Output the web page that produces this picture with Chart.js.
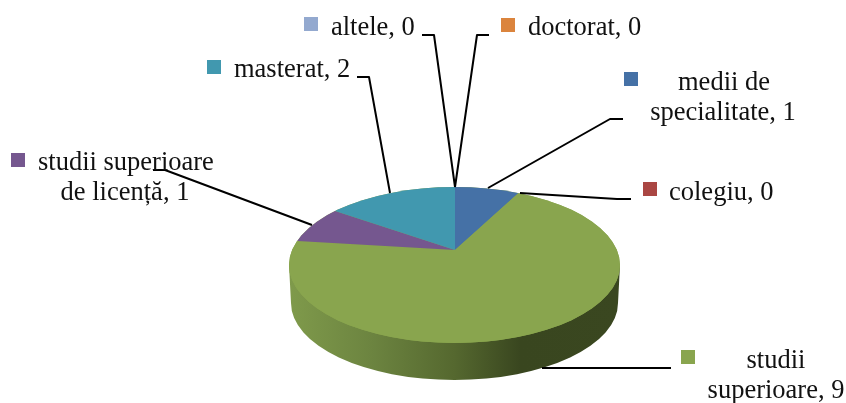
<!DOCTYPE html>
<html>
<head>
<meta charset="utf-8">
<style>html,body{margin:0;padding:0;background:#fff}canvas{display:block}</style>
<script src="https://cdn.jsdelivr.net/npm/chart.js@4"></script>
</head>
<body>
<canvas id="c" width="846" height="403"></canvas>
<script>
const categories = ["medii de specialitate","colegiu","studii superioare","studii superioare de licență","masterat","doctorat","altele"];
const values = [1,0,9,1,2,0,0];
const colors = ["#4571A6","#AA4643","#89A54E","#75578F","#4198AF","#DB843D","#93A9CF"];

// Annotation layout: square, text lines (x, baseline, align), leader polyline
const annotations = [
  {i:0,sq:[624,72],lines:[["medii de",724,90,"center"],["specialitate, 1",723,120,"center"]],lead:[[623,119],[610,119],[488,188]]},
  {i:1,sq:[643,182],lines:[["colegiu, 0",669,200,"left"]],lead:[[631,199],[617,199],[520,193]]},
  {i:2,sq:[681,350],lines:[["studii",776,368,"center"],["superioare, 9",776,398,"center"]],lead:[[671,368],[542,368]]},
  {i:3,sq:[11,153],lines:[["studii superioare",38,170,"left"],["de licență, 1",125,200,"center"]],lead:[[153,170],[165,170],[312,225]]},
  {i:4,sq:[207,60],lines:[["masterat, 2",234,77,"left"]],lead:[[357,77],[369,77],[390,193]]},
  {i:5,sq:[501,18],lines:[["doctorat, 0",528,35,"left"]],lead:[[489,35],[477,35],[455,187]]},
  {i:6,sq:[304,17],lines:[["altele, 0",331,35,"left"]],lead:[[422,35],[434,35],[455,187]]}
];

const top3d = {cx:454.5, cy:265, rx:165.5, ry:78};
const apex = {x:455, y:250};
const flatten = 0.471;

const pie3d = {
  id:'pie3d',
  beforeDatasetDraw(chart){
    const ctx = chart.ctx, t = top3d;
    // side wall
    const g = ctx.createLinearGradient(t.cx-t.rx,0,t.cx+t.rx,0);
    g.addColorStop(0,'#7F9A4B');
    g.addColorStop(0.25,'#6C8440');
    g.addColorStop(0.5,'#55682F');
    g.addColorStop(0.7,'#39461F');
    g.addColorStop(1,'#3A4720');
    ctx.save();
    ctx.fillStyle = g;
    ctx.beginPath();
    ctx.moveTo(t.cx-t.rx,t.cy);
    ctx.lineTo(t.cx-t.rx+2,t.cy+38);
    ctx.ellipse(t.cx,t.cy+38,t.rx-2,t.ry-1,0,Math.PI,0,true);
    ctx.lineTo(t.cx+t.rx,t.cy);
    ctx.closePath();
    ctx.fill();
    // base of top face so seams stay green
    ctx.fillStyle = colors[2];
    ctx.beginPath();
    ctx.ellipse(t.cx,t.cy,t.rx,t.ry,0,0,Math.PI*2);
    ctx.fill();
    ctx.restore();
    // top face: library arcs, flattened about the apex and clipped to the ellipse
    const a = chart.getDatasetMeta(0).data[0];
    const k = 210/a.outerRadius;
    ctx.save();
    ctx.beginPath();
    ctx.ellipse(t.cx,t.cy,t.rx,t.ry,0,0,Math.PI*2);
    ctx.clip();
    ctx.translate(apex.x,apex.y);
    ctx.scale(k,k*flatten);
    ctx.translate(-a.x,-a.y);
  },
  afterDatasetDraw(chart){ chart.ctx.restore(); },
  afterDraw(chart){
    const ctx = chart.ctx;
    ctx.save();
    ctx.strokeStyle = '#000';
    ctx.lineWidth = 2;
    ctx.lineJoin = 'round';
    annotations.forEach(n=>{
      ctx.beginPath();
      n.lead.forEach((p,j)=> j? ctx.lineTo(p[0],p[1]) : ctx.moveTo(p[0],p[1]));
      ctx.stroke();
    });
    ctx.font = '26.5px "Liberation Serif"';
    ctx.textBaseline = 'alphabetic';
    annotations.forEach(n=>{
      ctx.fillStyle = colors[n.i];
      ctx.fillRect(n.sq[0],n.sq[1],14,14);
      ctx.fillStyle = '#111';
      n.lines.forEach(l=>{ ctx.textAlign = l[3]; ctx.fillText(l[0],l[1],l[2]); });
    });
    ctx.restore();
  }
};

new Chart(document.getElementById('c'),{
  type:'pie',
  data:{labels:categories,datasets:[{data:values,backgroundColor:colors,borderWidth:0,clip:false}]},
  options:{
    responsive:false,
    animation:false,
    layout:{padding:10},
    plugins:{legend:{display:false},tooltip:{enabled:false}}
  },
  plugins:[pie3d]
});
</script>
</body>
</html>
